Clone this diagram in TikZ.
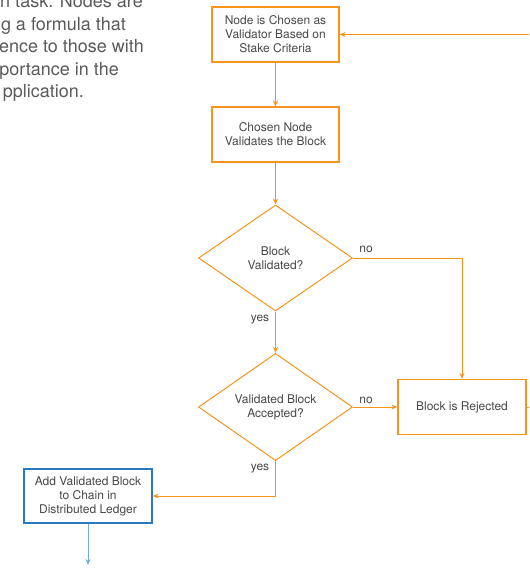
\documentclass[tikz,border=0pt]{standalone}
\usepackage{fontspec}
\setmainfont{TeX Gyre Heros}
\usetikzlibrary{shapes.geometric,arrows.meta}

\definecolor{flow}{RGB}{247,148,30}
\definecolor{ledger}{RGB}{40,122,192}
\definecolor{ledgerarrow}{RGB}{110,172,222}
\definecolor{ink}{RGB}{72,72,72}
\definecolor{notegray}{RGB}{90,90,90}

\tikzset{
  boxtext/.style={font=\fontsize{12}{14}\selectfont, text=ink, align=center},
  procbox/.style={boxtext, draw=flow, line width=1.2pt, fill=white,
    minimum width=127pt, minimum height=55pt, inner sep=2pt},
  ledgerbox/.style={procbox, draw=ledger},
  decision/.style={boxtext, diamond, draw=flow, line width=1pt, fill=white,
    minimum width=154pt, minimum height=106pt, inner sep=0pt},
  link/.style={draw=flow, line width=1pt, -{Stealth[length=6pt,width=5pt]}},
  ledgerlink/.style={link, draw=ledgerarrow, fill=ledgerarrow},
  edgelabel/.style={font=\fontsize{12}{14}\selectfont, text=ink, anchor=base},
  notetext/.style={font=\fontsize{18}{22}\selectfont, text=notegray, anchor=base east, inner sep=0pt}
}

\begin{document}
\begin{tikzpicture}[x=1pt, y=-1pt]
  \useasboundingbox (0,0) rectangle (529,569);
  \clip (0,0) rectangle (529,569);

  % explanatory paragraph in the upper left corner
  \node[notetext] (note1) at (143,8)    {n task. Nodes are};
  \node[notetext] (note2) at (126,30.5) {g a formula that};
  \node[notetext] (note3) at (144,53)   {ence to those with};
  \node[notetext] (note4) at (119,75.5) {portance in the};
  \node[notetext] (note5) at (84,98)    {pplication.};

  % process steps and decisions
  \node[procbox]   (choose)   at (275.5,34.5)  {Node is Chosen as\\Validator Based on\\Stake Criteria};
  \node[procbox]   (validate) at (275.5,134.5) {Chosen Node\\Validates the Block};
  \node[decision]  (valid)    at (275.5,258)   {Block\\Validated?};
  \node[decision]  (accept)   at (275.5,407)   {Validated Block\\Accepted?};
  \node[procbox, minimum width=128pt] (reject) at (462,407) {Block is Rejected};
  \node[ledgerbox, minimum width=128pt, minimum height=54pt] (ledger) at (88,496)
       {Add Validated Block\\to Chain in\\Distributed Ledger};

  \coordinate (loop) at (545,0);
  \coordinate (ledgerout) at (88,565);

  % connectors
  \draw[link] (choose) -- (validate);
  \draw[link] (validate) -- (valid);
  \draw[link] (valid) -- (accept);
  \draw[link] (valid.east) -| (reject.north);
  \draw[link] (accept.east) -- (reject.west);
  \draw[link] (accept.south) |- (ledger.east);
  \draw[link] (reject.east) -- (reject.east -| loop) -- (loop |- choose.east) -- (choose.east);
  \draw[ledgerlink] (ledger.south) -- (ledgerout);

  % branch labels
  \node[edgelabel] (no1)  at (366,252) {no};
  \node[edgelabel] (yes1) at (260,321) {yes};
  \node[edgelabel] (no2)  at (366,403) {no};
  \node[edgelabel] (yes2) at (260,470) {yes};
\end{tikzpicture}
\end{document}
